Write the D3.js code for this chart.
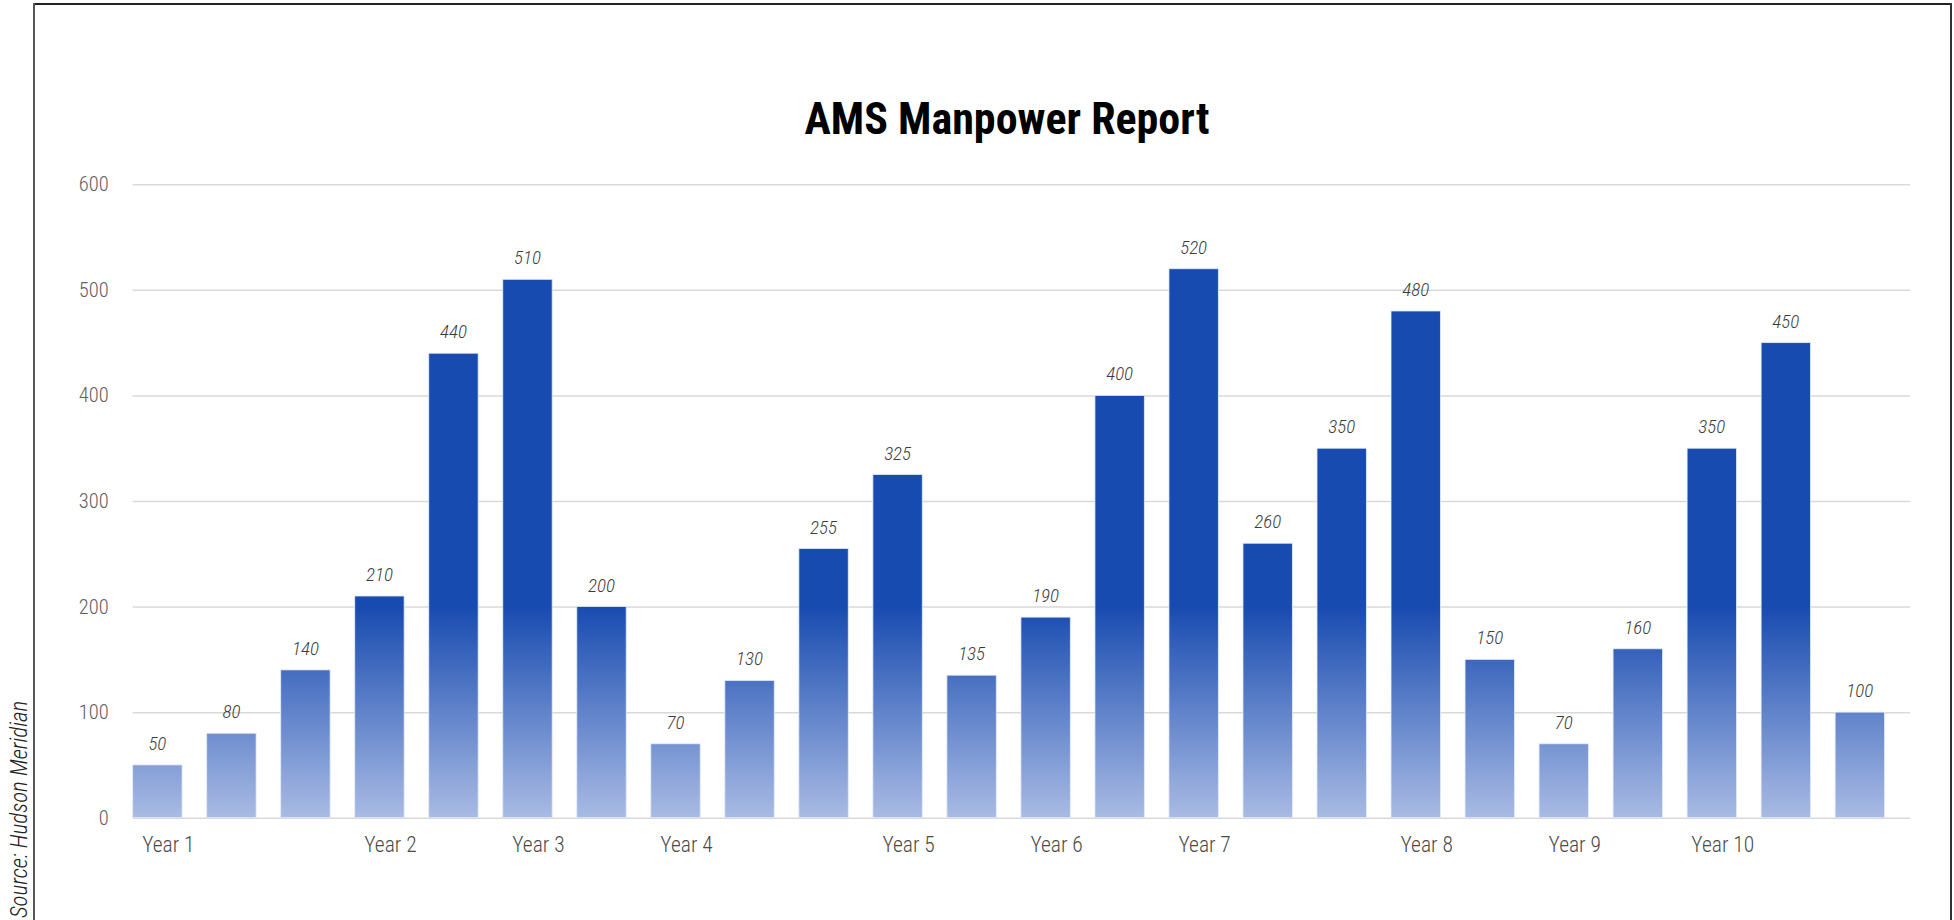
<!DOCTYPE html>
<html>
<head>
<meta charset="utf-8">
<script src="https://cdn.jsdelivr.net/npm/d3@7"></script>
<style>
  html, body { margin: 0; padding: 0; background: #fff; }
  svg { display: block; }
  .cond { font-family: "Liberation Sans Narrow", "Roboto Condensed", "DejaVu Sans Condensed", "Arial Narrow", sans-serif; }
</style>
</head>
<body>
<svg id="chart" width="1954" height="920"></svg>
<script>
// Manpower counts, one bar per reporting period
const periods = d3.range(24);
const periodLabels = ["Year 1", "", "", "Year 2", "", "Year 3", "", "Year 4", "", "",
  "Year 5", "", "Year 6", "", "Year 7", "", "", "Year 8", "", "Year 9", "", "Year 10", "", ""];
const manpower = [50, 80, 140, 210, 440, 510, 200, 70, 130, 255, 325, 135,
  190, 400, 520, 260, 350, 480, 150, 70, 160, 350, 450, 100];
const yTicks = [0, 100, 200, 300, 400, 500, 600];

const titleText = "AMS Manpower Report";
const sourceText = "Source: Hudson Meridian";

const svg = d3.select("#chart");
const W = 1954, H = 920;

// Frame
svg.append("line").attr("x1", 34).attr("x2", 1951).attr("y1", 4).attr("y2", 4)
  .attr("stroke", "#222").attr("stroke-width", 2);
svg.append("line").attr("x1", 34).attr("x2", 34).attr("y1", 3).attr("y2", H + 2)
  .attr("stroke", "#555").attr("stroke-width", 2);
svg.append("line").attr("x1", 1951).attr("x2", 1951).attr("y1", 3).attr("y2", H + 2)
  .attr("stroke", "#333").attr("stroke-width", 2);

const plotLeft = 132.7, plotRight = 1910, barsRight = 1884.5;
const y = d3.scaleLinear().domain([0, 600]).range([817.7, 184.3]);
const x = d3.scaleBand().domain(periods).range([plotLeft, barsRight])
  .paddingInner(0.333).paddingOuter(0);

// Vertical gradient shared by all bars (fixed in chart space)
const defs = svg.append("defs");
const grad = defs.append("linearGradient").attr("id", "barFill")
  .attr("gradientUnits", "userSpaceOnUse")
  .attr("x1", 0).attr("x2", 0)
  .attr("y1", y(200)).attr("y2", y(0));
grad.append("stop").attr("offset", "0%").attr("stop-color", "#184bb0");
grad.append("stop").attr("offset", "100%").attr("stop-color", "#a9bbe4");

// Gridlines
const yAxis = d3.axisLeft(y).tickValues(yTicks).tickSize(-(plotRight - plotLeft)).tickPadding(24);
const gy = svg.append("g").attr("transform", `translate(${plotLeft},0)`).call(yAxis);
gy.select(".domain").remove();
gy.selectAll(".tick line").attr("stroke", "#d9d9d9").attr("stroke-width", 1.5);
gy.selectAll(".tick text").attr("class", "cond").attr("font-size", 20.5)
  .attr("font-weight", 300).attr("fill", "#5e5e5e");

// Bars
svg.append("g").selectAll("rect").data(periods).join("rect")
  .attr("x", i => x(i))
  .attr("y", i => y(manpower[i]))
  .attr("width", x.bandwidth())
  .attr("height", i => y(0) - y(manpower[i]))
  .attr("fill", "url(#barFill)")
  .attr("stroke", "#e3e9f7").attr("stroke-width", 0.8);

// Value labels
svg.append("g").selectAll("text").data(periods).join("text")
  .attr("class", "cond")
  .attr("x", i => x(i) + x.bandwidth() / 2)
  .attr("y", i => y(manpower[i]) - 15)
  .attr("text-anchor", "middle")
  .attr("font-size", 19).attr("font-style", "italic").attr("font-weight", 300)
  .attr("fill", "#3c3c3c")
  .text(i => manpower[i]);

// Category axis
const xAxis = d3.axisBottom(x).tickSize(0).tickPadding(0).tickFormat(i => periodLabels[i]);
const gx = svg.append("g").attr("transform", `translate(11,0)`).call(xAxis);
gx.select(".domain").remove();
gx.selectAll(".tick text").attr("class", "cond").attr("font-size", 21.5)
  .attr("font-weight", 300).attr("fill", "#4a4a4a").attr("dy", null).attr("y", 851.7);

// Title
svg.append("text").attr("class", "cond")
  .attr("x", 1007).attr("y", 134).attr("text-anchor", "middle")
  .attr("font-size", 44).attr("font-weight", "bold").attr("fill", "#000")
  .text(titleText);

// Source note, running up the left margin
svg.append("text").attr("class", "cond")
  .attr("transform", "translate(27,918) rotate(-90)")
  .attr("font-size", 23).attr("font-style", "italic").attr("font-weight", 300).attr("fill", "#222")
  .text(sourceText);
</script>
</body>
</html>
